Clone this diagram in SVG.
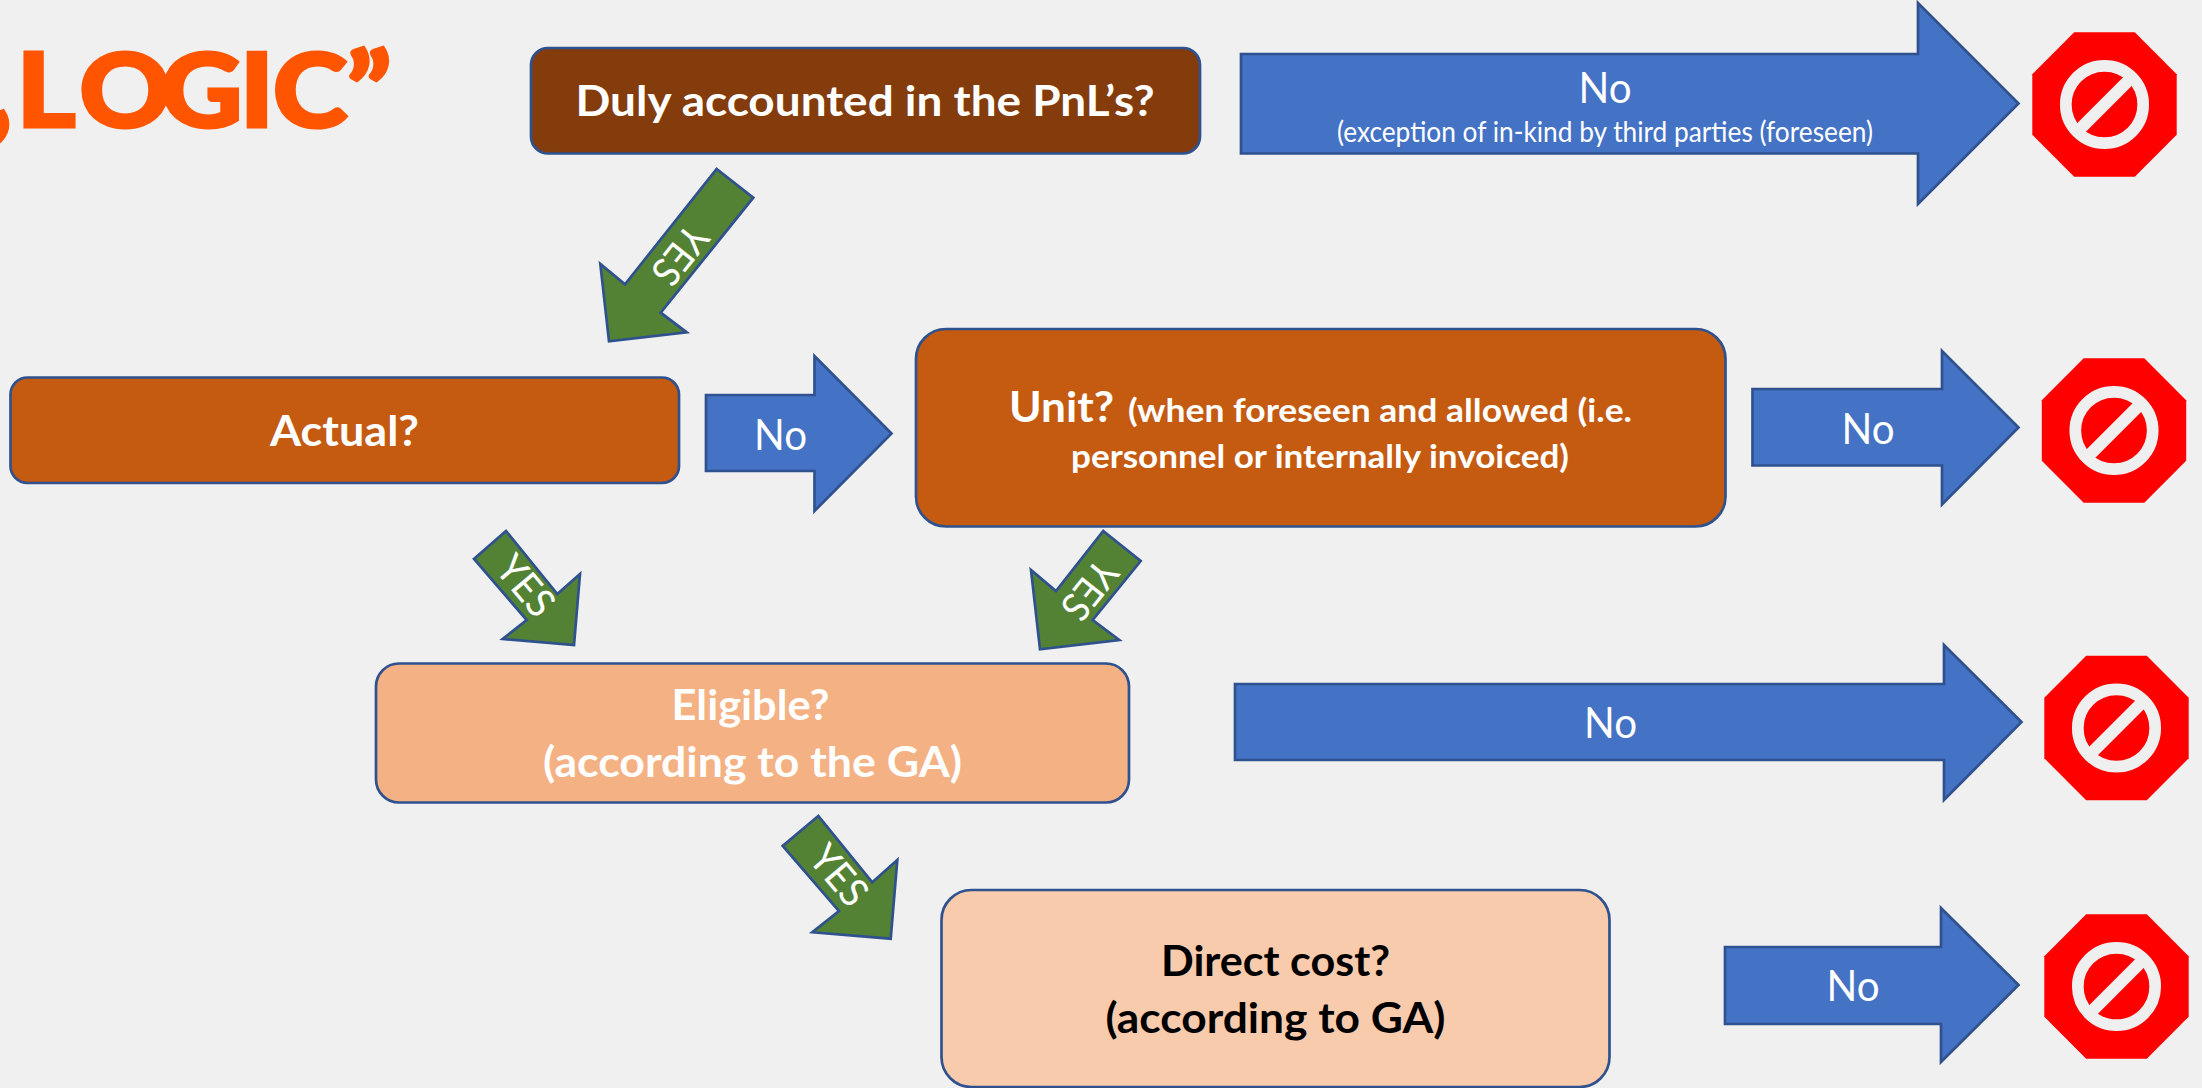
<svg xmlns="http://www.w3.org/2000/svg" xmlns:xlink="http://www.w3.org/1999/xlink" width="2202" height="1088" viewBox="0 0 2202 1088">
<style>
text{font-family:Lato,"Open Sans","Liberation Sans",sans-serif;fill:#fff;text-anchor:middle}
.b{font-weight:700}
.box{stroke:#2F528F;stroke-width:2.7}
.blue{fill:#4472C4;stroke:#2F528F;stroke-width:2.7}
.green{fill:#548235;stroke:#2F528F;stroke-width:2.7}
.no{font-size:42px}
.yes{font-size:40px}
.big{font-size:42px}
</style>
<defs>
<g id="stopsign">
<polygon points="-30.3,-72.2 30.3,-72.2 72.2,-30.3 72.2,30.3 30.3,72.2 -30.3,72.2 -72.2,30.3 -72.2,-30.3" fill="#FF0000"/>
<circle r="38.7" fill="none" stroke="#EFEFEF" stroke-width="11.7"/>
<line x1="30" y1="-30" x2="-30" y2="30" stroke="#EFEFEF" stroke-width="12.3"/>
</g>
</defs>
<rect width="2202" height="1088" fill="#F0F0F0"/>
<text id="title" transform="scale(1.1,1)" y="127" x="-29 15 72 146 218 248 315" style="text-anchor:start;font-weight:900;font-size:103px;fill:#FF5500;stroke:#FF5500;stroke-width:3">„LOGIC”</text>
<g id="connectors">
<g id="no-pnl"><polygon class="blue" points="1241,54 1918,54 1918,3 2018.5,103.5 1918,204 1918,153.5 1241,153.5"/>
<text class="no" x="1605" y="102.5" textLength="53" lengthAdjust="spacingAndGlyphs">No</text>
<text x="1605" y="141.5" font-size="28" textLength="536" lengthAdjust="spacingAndGlyphs">(exception of in-kind by third parties (foreseen)</text></g>
<g id="no-actual"><polygon class="blue" points="706,395 814.5,395 814.5,356 891.5,433.5 814.5,511 814.5,471 706,471"/>
<text class="no" x="780.5" y="449.5" textLength="53" lengthAdjust="spacingAndGlyphs">No</text></g>
<g id="no-unit"><polygon class="blue" points="1752.5,389 1942,389 1942,351 2018.5,427.5 1942,504.5 1942,465.5 1752.5,465.5"/>
<text class="no" x="1868" y="443.5" textLength="53" lengthAdjust="spacingAndGlyphs">No</text></g>
<g id="no-eligible"><polygon class="blue" points="1235,684 1944,684 1944,645 2021.5,722 1944,800 1944,760 1235,760"/>
<text class="no" x="1610.5" y="737.5" textLength="53" lengthAdjust="spacingAndGlyphs">No</text></g>
<g id="no-direct"><polygon class="blue" points="1725,947 1941,947 1941,908 2018.5,985 1941,1062 1941,1024 1725,1024"/>
<text class="no" x="1853" y="1000.5" textLength="53" lengthAdjust="spacingAndGlyphs">No</text></g>
<g id="yes-pnl"><polygon class="green" points="716.7,169 753.3,197.7 660.7,312.7 686.7,332.3 609,341.3 600.3,264 625,284.3"/>
<text class="yes" transform="translate(680,255) rotate(128.5)" y="14" textLength="64" lengthAdjust="spacingAndGlyphs">YES</text></g>
<g id="yes-actual"><polygon class="green" points="506,531 474,559 526.7,620 502.7,639 574,645 580,574 557.3,594"/>
<text class="yes" transform="translate(525.7,585.7) rotate(50)" y="14" textLength="66" lengthAdjust="spacingAndGlyphs">YES</text></g>
<g id="yes-unit"><polygon class="green" points="1103.3,531 1140.7,561 1092.7,620 1119.3,640 1040,649.3 1031,570 1056,591"/>
<text class="yes" transform="translate(1089.5,590) rotate(128.5)" y="14" textLength="64" lengthAdjust="spacingAndGlyphs">YES</text></g>
<g id="yes-eligible"><polygon class="green" points="818.3,816 782.7,846 839,911 812.3,932.3 890.7,938.7 897.3,860 872.3,882.3"/>
<text class="yes" transform="translate(839,875.3) rotate(50)" y="14" textLength="66" lengthAdjust="spacingAndGlyphs">YES</text></g>
</g>
<g id="node-pnl"><rect class="box" x="531" y="48" width="669" height="105.5" rx="17" fill="#843C0C"/>
<text class="b big" x="865" y="116" textLength="579" lengthAdjust="spacingAndGlyphs">Duly accounted in the PnL’s?</text></g>
<g id="node-actual"><rect class="box" x="10.5" y="377.5" width="668.5" height="105.5" rx="17" fill="#C55A11"/>
<text class="b big" x="344.5" y="446" textLength="149" lengthAdjust="spacingAndGlyphs">Actual?</text></g>
<g id="node-unit"><rect class="box" x="916" y="329" width="809.5" height="197.5" rx="30" fill="#C55A11"/>
<text class="b big" x="1061.5" y="421.5" textLength="105" lengthAdjust="spacingAndGlyphs">Unit?</text>
<text class="b" x="1380" y="421.5" font-size="33" textLength="504" lengthAdjust="spacingAndGlyphs">(when foreseen and allowed (i.e.</text>
<text class="b" x="1320" y="468" font-size="33" textLength="498" lengthAdjust="spacingAndGlyphs">personnel or internally invoiced)</text></g>
<g id="node-eligible"><rect class="box" x="376" y="663.5" width="753" height="139" rx="23" fill="#F4B183"/>
<text class="b big" x="750.5" y="720" textLength="158" lengthAdjust="spacingAndGlyphs">Eligible?</text>
<text class="b big" x="752.5" y="777.3" textLength="419" lengthAdjust="spacingAndGlyphs">(according to the GA)</text></g>
<g id="node-direct"><rect class="box" x="941.5" y="890" width="668" height="197" rx="30" fill="#F8CBAD"/>
<text class="b big" x="1275.5" y="975.5" textLength="229" lengthAdjust="spacingAndGlyphs" style="fill:#000">Direct cost?</text>
<text class="b big" x="1275.5" y="1033" textLength="340" lengthAdjust="spacingAndGlyphs" style="fill:#000">(according to GA)</text></g>
<g id="stop-1"><use xlink:href="#stopsign" href="#stopsign" transform="translate(2104.5,104.5)"/></g>
<g id="stop-2"><use xlink:href="#stopsign" href="#stopsign" transform="translate(2114,430.5)"/></g>
<g id="stop-3"><use xlink:href="#stopsign" href="#stopsign" transform="translate(2116.5,728)"/></g>
<g id="stop-4"><use xlink:href="#stopsign" href="#stopsign" transform="translate(2116.5,986.5)"/></g>
</svg>
